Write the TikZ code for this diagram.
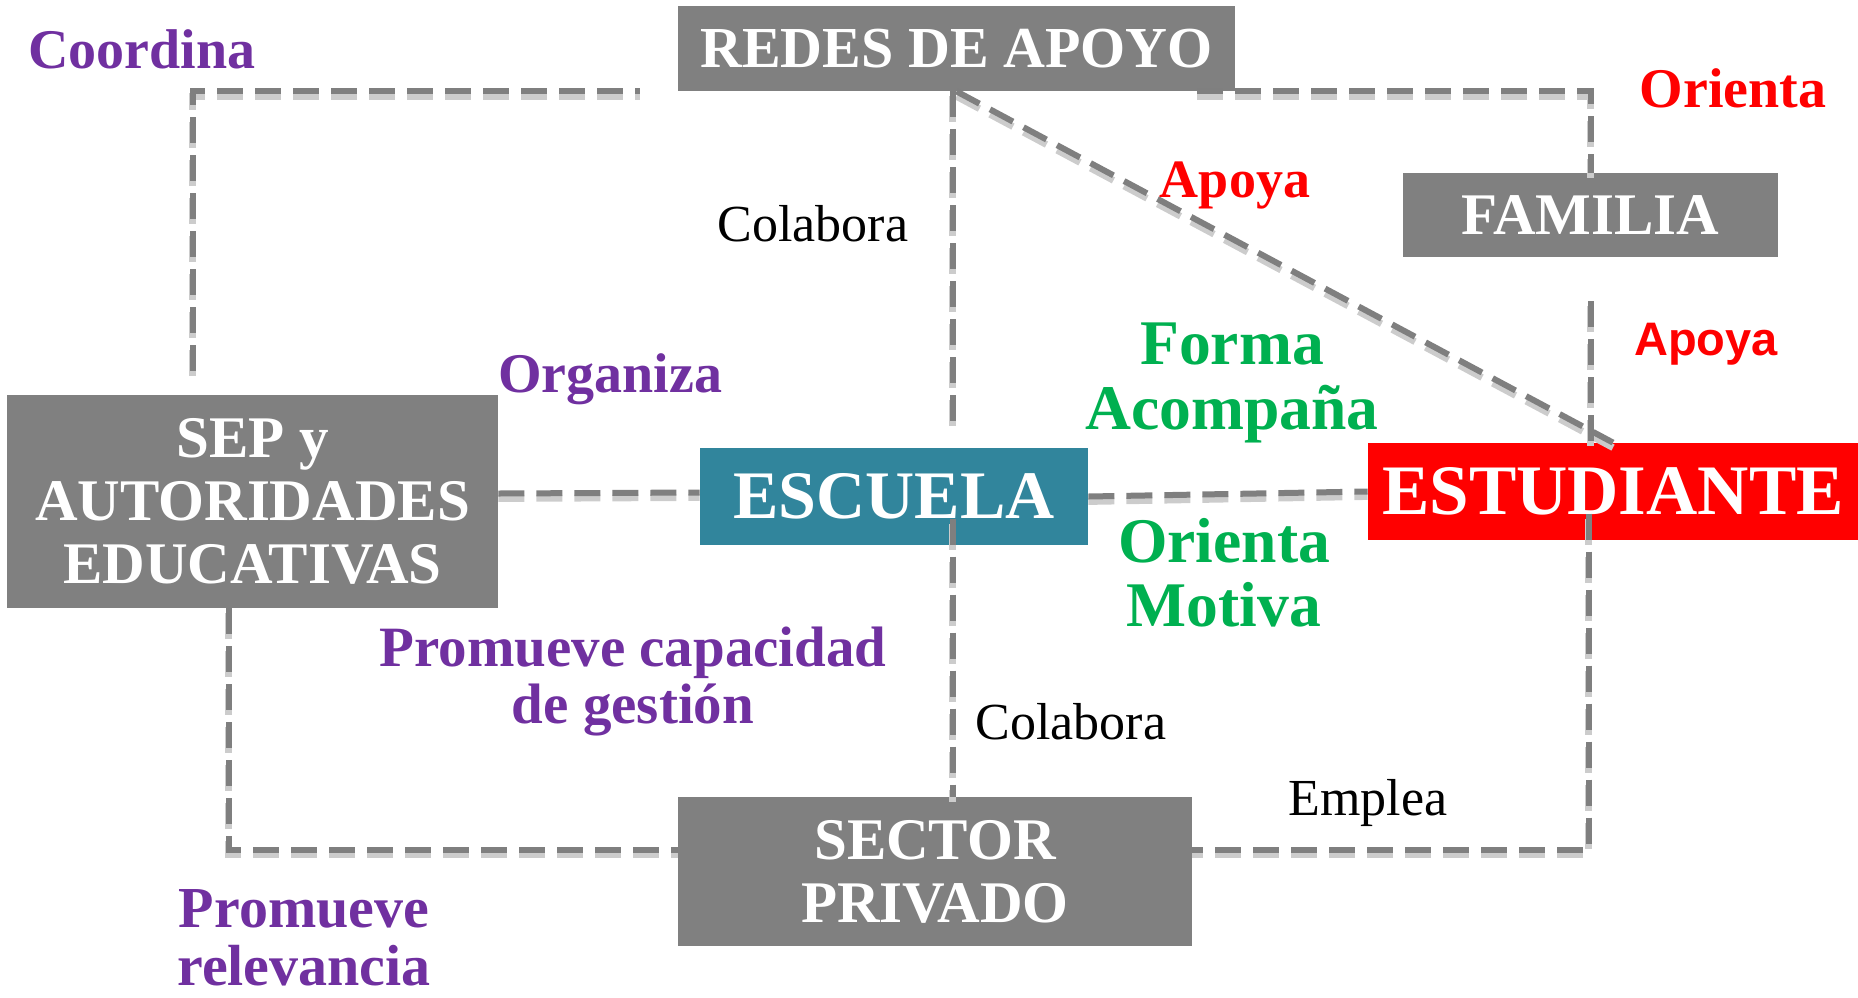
\documentclass[tikz,border=0pt]{standalone}
\usepackage{fontspec}
\setmainfont{Liberation Serif}
\newfontfamily\apoyafont{Liberation Sans}
\definecolor{boxgray}{HTML}{808080}
\definecolor{linkgray}{HTML}{7F7F7F}
\definecolor{escuelateal}{HTML}{31859C}
\definecolor{rojo}{HTML}{FF0000}
\definecolor{morado}{HTML}{7030A0}
\definecolor{verde}{HTML}{00B050}
\tikzset{
	box/.style={fill=boxgray,text=white,inner sep=0pt,align=center,font=\bfseries\fontsize{29.5}{31.5}\selectfont},
	link/.style={draw=linkgray,line width=3pt,dash pattern=on 13pt off 6pt,
		preaction={draw=black!20,line width=3.4pt,dash pattern=on 13pt off 6pt,transform canvas={yshift=-2.5pt}}},
	lbl/.style={font=\bfseries\fontsize{28}{28.5}\selectfont,align=center,inner sep=0pt},
	verb/.style={font=\fontsize{26}{27}\selectfont,inner sep=0pt}
}
\begin{document}
\begin{tikzpicture}[x=0.5pt,y=-0.5pt]
		\useasboundingbox (0,0) rectangle (1858,997);
		% actores
		\node (redes) at (956.5,48.5)[box,minimum width=278.5pt,minimum height=42.5pt,font=\bfseries\fontsize{29}{31}\selectfont]{REDES DE APOYO};
		\node (familia) at (1590.5,215)[box,minimum width=187.5pt,minimum height=42pt]{FAMILIA};
		\node (sep) at (252.5,501.5)[box,minimum width=245.5pt,minimum height=106.5pt]{SEP y\\AUTORIDADES\\EDUCATIVAS};
		\node (escuela) at (894,496.5)[box,fill=escuelateal,minimum width=194pt,minimum height=48.5pt,font=\bfseries\fontsize{34}{36}\selectfont]{ESCUELA};
		\node (estudiante) at (1613,491.5)[box,fill=rojo,minimum width=245pt,minimum height=48.5pt,font=\bfseries\fontsize{35.5}{37}\selectfont]{ESTUDIANTE};
		\node (sector) at (935,871.5)[box,minimum width=257pt,minimum height=74.5pt]{SECTOR\\PRIVADO};
		% relaciones
		\draw[link] ([xshift=93pt,yshift=12pt]sep.north west) |- ([xshift=-19pt]redes.south west);
		\draw[link] ([xshift=-19pt]redes.south east) -| (familia.north);
		\draw[link] (redes.south)--(estudiante.north);
		\draw[link,shorten >=8pt] ([xshift=-2pt]redes.south)--([xshift=-2pt]redes.south |- escuela.north);
		\draw[link,shorten <=22pt] (familia.south)--(familia.south |- estudiante.north);
		\draw[link] ([yshift=4pt]sep.east)--([yshift=2pt]escuela.west);
		\draw[link] (escuela.east)--(estudiante.west);
		\draw[link] ([xshift=-12pt]sep.south) |- ([yshift=11pt]sector.west);
		\draw[link] (redes.south |- escuela.center) ++(-4,22)--([xshift=-2pt]redes.south |- sector.north);
		\draw[link] (familia.south |- estudiante.center) ++(-2,22) |- ([yshift=11pt]sector.east);
		% etiquetas
		\node (coordina) at (142,68)[lbl,text=morado,anchor=base]{Coordina};
		\node (organiza) at (610,392)[lbl,text=morado,anchor=base]{Organiza};
		\node (gestion) at (633,682)[lbl,text=morado,font=\bfseries\fontsize{28.5}{28.5}\selectfont]{Promueve capacidad\\de gestión};
		\node (relevancia) at (304,938)[lbl,text=morado,font=\bfseries\fontsize{29}{29}\selectfont]{Promueve\\relevancia};
		\node (orienta) at (1733,107)[lbl,text=rojo,anchor=base]{Orienta};
		\node (apoyaredes) at (1235,197)[lbl,text=rojo,anchor=base,font=\bfseries\fontsize{27}{28}\selectfont]{Apoya};
		\node (apoyafamilia) at (1706,355)[inner sep=0pt,text=rojo,anchor=base,font=\apoyafont\bfseries\fontsize{23.5}{24}\selectfont]{Apoya};
		\node (forma) at (1232,383)[lbl,text=verde,font=\bfseries\fontsize{31.8}{32.5}\selectfont]{Forma\\Acompaña};
		\node (motiva) at (1224,573)[lbl,text=verde,font=\bfseries\fontsize{31.8}{32}\selectfont]{Orienta\\Motiva};
		\node (colaboraredes) at (813,241)[verb,anchor=base]{Colabora};
		\node (colaborasector) at (1071,739)[verb,anchor=base]{Colabora};
		\node (emplea) at (1368,815)[verb,anchor=base]{Emplea};
	\end{tikzpicture}
\end{document}
